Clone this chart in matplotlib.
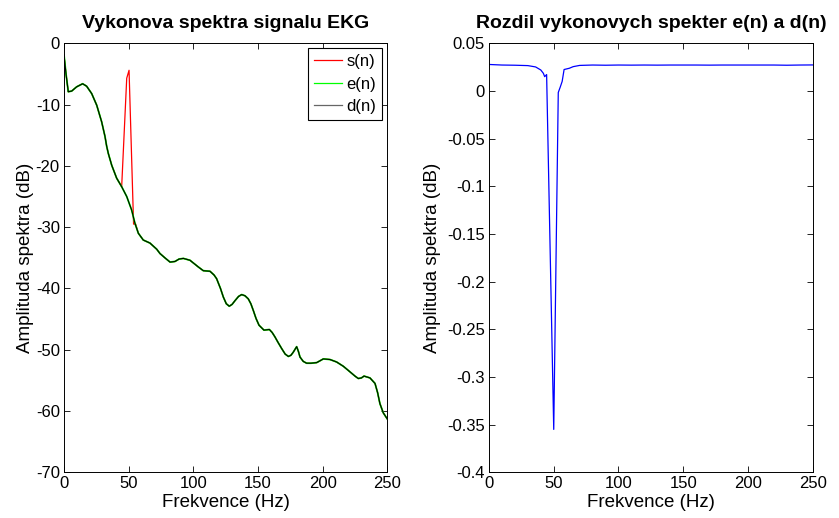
import matplotlib
matplotlib.use("Agg")
import matplotlib.pyplot as plt

plt.rcParams["font.family"] = ["Liberation Sans", "DejaVu Sans"]
plt.rcParams["axes.unicode_minus"] = False

# Power spectrum of the filtered ECG d(n) (dB)
freq_hz = [0, 1.5, 3.3, 5.9, 9.8, 14.4, 17.5, 21.4, 25.3, 29.1, 31.7, 33.0, 34.3,
           36.9, 40.7, 44.6, 48.5, 52.3, 54.9, 57.5, 61.3, 66.5, 71.7, 74.2, 78.0,
           82.0, 85.8, 89.0, 92.3, 97.4, 103.9, 107.7, 112.9, 116.0, 118.0, 121.0,
           123.2, 125.5, 127.8, 130.0, 132.2, 135.0, 137.4, 140.0, 142.5, 144.5,
           146.4, 148.5, 150.8, 154.6, 158.8, 161.0, 163.1, 165.5, 168.3, 171.0,
           173.5, 175.5, 177.3, 179.9, 181.3, 182.5, 185.0, 187.6, 191.0, 195.4,
           198.0, 200.5, 205.7, 210.8, 216.0, 221.1, 225.0, 227.6, 230.0, 232.0,
           236.6, 240.5, 242.5, 244.3, 246.9, 250.0]
d_db = [-1.9, -4.9, -7.9, -7.8, -7.1, -6.6, -7.0, -8.2, -10.1, -12.8, -15.2, -16.8, -18.0,
        -19.9, -22.0, -23.4, -25.0, -27.2, -29.4, -31.0, -32.1, -32.6, -33.6, -34.3, -35.0,
        -35.7, -35.6, -35.2, -35.1, -35.4, -36.5, -37.1, -37.2, -37.8, -38.4, -40.0,
        -41.4, -42.5, -42.9, -42.6, -42.0, -41.3, -41.0, -41.2, -41.7, -42.5,
        -43.6, -44.9, -46.0, -46.8, -46.7, -47.2, -47.9, -48.8, -49.8, -50.7,
        -51.1, -50.9, -50.4, -49.5, -50.3, -51.2, -51.9, -52.2, -52.2, -52.1,
        -51.8, -51.5, -51.6, -52.0, -52.7, -53.6, -54.3, -54.7, -54.6, -54.3,
        -54.6, -55.5, -57.0, -58.8, -60.3, -61.3]
# e(n) coincides with d(n) at this scale (difference below 0.4 dB)
e_db = list(d_db)

# Original signal s(n): same spectrum plus the 50 Hz mains peak
peak_hz = [44.6, 48.5, 50.3, 53.8, 55.4, 57.5]
peak_db = [-23.4, -5.7, -4.4, -29.5, -29.5, -31.0]

# Difference of the power spectra e(n) - d(n) (dB)
diff_hz = [0, 10, 20, 30, 36, 40, 42, 43, 44.5, 50, 53.5, 55, 56.5, 58, 62, 65, 70,
           80, 90, 100, 110, 120, 130, 140, 150, 160, 170, 180, 190, 200, 210, 220,
           230, 240, 250]
diff_db = [0.0278, 0.0272, 0.0270, 0.0266, 0.0252, 0.0220, 0.0185, 0.0150, 0.0172,
           -0.355, -0.0016, 0.004, 0.010, 0.0225, 0.0238, 0.0255, 0.0268,
           0.0272, 0.0270, 0.0272, 0.0271, 0.0272, 0.0271, 0.0272, 0.0272, 0.0272,
           0.0271, 0.0272, 0.0272, 0.0272, 0.0272, 0.0272, 0.0270, 0.0272, 0.0273]

left_yticks = [0, -10, -20, -30, -40, -50, -60, -70]
right_yticks = [0.05, 0, -0.05, -0.1, -0.15, -0.2, -0.25, -0.3, -0.35, -0.4]
right_ylabels = ["0.05", "0", "-0.05", "-0.1", "-0.15", "-0.2", "-0.25", "-0.3", "-0.35", "-0.4"]
x_ticks = [0, 50, 100, 150, 200, 250]

s_hz = [f for f in freq_hz if f < peak_hz[0]] + peak_hz + [f for f in freq_hz if f > peak_hz[-1]]
s_db = ([v for f, v in zip(freq_hz, d_db) if f < peak_hz[0]] + peak_db
        + [v for f, v in zip(freq_hz, d_db) if f > peak_hz[-1]])

W, H = 839, 518
fig = plt.figure(figsize=(W / 100, H / 100), dpi=100)
ax1 = fig.add_axes([64 / W, 1 - 472.3 / H, 323.3 / W, 429 / H])
ax2 = fig.add_axes([489 / W, 1 - 472.3 / H, 323.7 / W, 429 / H])

TICK = 12
LABEL = 13.5
TITLE = 14

for ax in (ax1, ax2):
    ax.tick_params(direction="in", top=True, right=True, length=4, width=0.6,
                   labelsize=TICK, pad=3)
    for sp in ax.spines.values():
        sp.set_linewidth(0.7)
        sp.set_color("black")
    ax.set_xlim(0, 250)
    ax.set_xticks(x_ticks)
    ax.set_xticklabels([str(t) for t in x_ticks])
    ax.set_xlabel("Frekvence (Hz)", fontsize=LABEL, labelpad=2)

ax1.set_ylabel("Amplituda spektra (dB)", fontsize=LABEL, labelpad=1)
ax2.set_ylabel("Amplituda spektra (dB)", fontsize=LABEL, labelpad=4)

ax1.plot(s_hz, s_db, color="red", lw=0.9, label="s(n)")
ax1.plot(freq_hz, e_db, color="#00ff00", lw=1.3, label="e(n)")
ax1.plot(freq_hz, d_db, color="black", lw=0.8, label="d(n)")
ax1.set_ylim(-70, 0)
ax1.set_yticks(left_yticks)
ax1.set_yticklabels([str(t) for t in left_yticks])
ax1.set_title("Vykonova spektra signalu EKG", fontsize=TITLE, fontweight="bold", pad=11)
leg = ax1.legend(loc="upper right", fontsize=12, frameon=True, fancybox=False,
                 edgecolor="black", framealpha=1, borderaxespad=0.3,
                 handlelength=1.7, handletextpad=0.25, labelspacing=0.45,
                 borderpad=0.35)
leg.get_frame().set_linewidth(0.8)
for ln in leg.get_lines():
    ln.set_linewidth(0.9)
leg.get_lines()[2].set_color("#666666")

ax2.plot(diff_hz, diff_db, color="blue", lw=0.9)
ax2.set_ylim(-0.4, 0.05)
ax2.set_yticks(right_yticks)
ax2.set_yticklabels(right_ylabels)
ax2.set_title("Rozdil vykonovych spekter e(n) a d(n)", fontsize=TITLE,
              fontweight="bold", pad=11)

fig.savefig("out.png", dpi=100, facecolor="white")
